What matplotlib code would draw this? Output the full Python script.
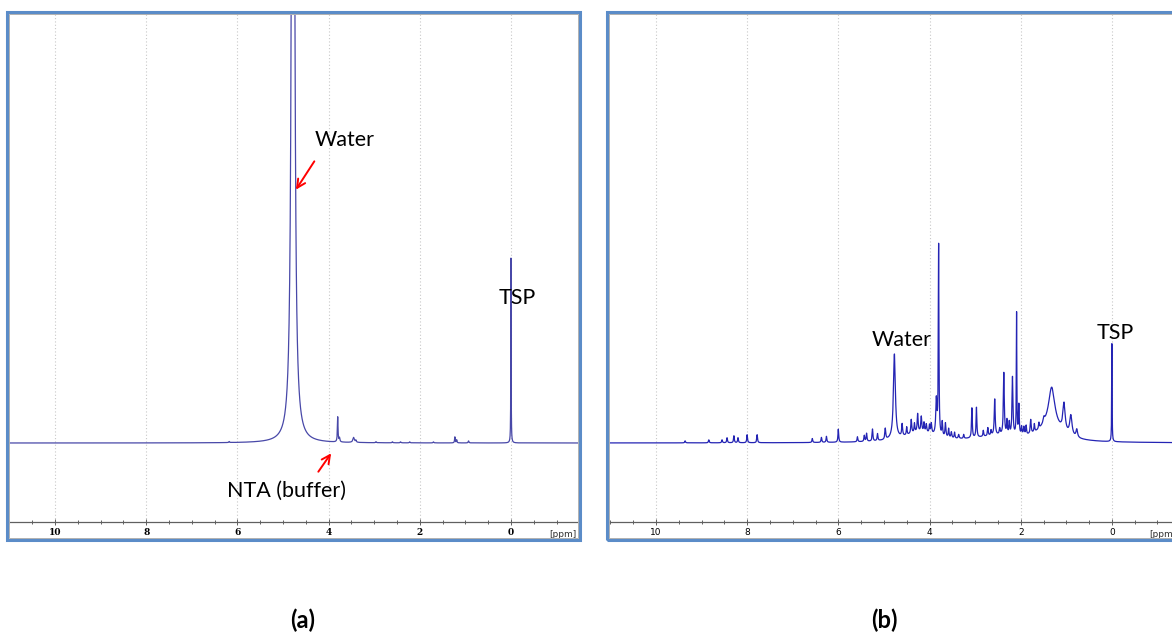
import numpy as np
import matplotlib.pyplot as plt
from matplotlib.patches import Rectangle

# =========================
# DATA
# heights in arbitrary units above the baseline, widths = half width in ppm
# =========================
# (a) buffer only
a_pos = [4.78, 0.00, 3.80, 3.76, 3.45, 3.40, 1.23, 1.19, 0.93, 6.18, 2.96, 2.60, 2.42, 2.22, 1.70]
a_height = [2000, 185, 25, 4, 5, 2, 6, 3, 2, 1, 1, 1, 1, 1, 1]
a_width = [0.022, 0.004, 0.008, 0.01, 0.02, 0.01, 0.008, 0.008, 0.01, 0.01, 0.01, 0.01, 0.01, 0.01, 0.01]

# (b) sample
b_pos = [9.36, 8.84, 8.55, 8.44, 8.29, 8.20, 8.00, 7.78, 6.57, 6.37, 6.26, 6.00,
         5.58, 5.43, 5.38, 5.25, 5.14, 4.97, 4.77, 4.60, 4.50, 4.40, 4.33, 4.26,
         4.18, 4.12, 4.07, 4.00, 3.96, 3.85, 3.80, 3.72, 3.65, 3.58, 3.52, 3.45,
         3.36, 3.25, 3.07, 2.97, 2.82, 2.72, 2.65, 2.57, 2.46, 2.37, 2.30, 2.25,
         2.18, 2.09, 2.04, 1.98, 1.93, 1.88, 1.78, 1.70, 1.60, 1.49, 1.32, 1.05,
         0.90, 0.77, 0.00]
b_height = [2, 3, 3, 5, 7, 5, 8, 8, 4, 5, 6, 13,
            5, 6, 8, 12, 7, 11, 85, 12, 8, 14, 9, 18,
            15, 9, 8, 8, 10, 35, 190, 14, 14, 9, 6, 6,
            4, 4, 30, 30, 6, 8, 5, 36, 6, 62, 14, 12,
            58, 122, 30, 8, 8, 9, 14, 8, 6, 5, 38, 28,
            20, 8, 98]
b_width = [0.01, 0.01, 0.01, 0.01, 0.01, 0.01, 0.01, 0.01, 0.01, 0.01, 0.01, 0.01,
           0.01, 0.01, 0.01, 0.01, 0.01, 0.012, 0.025, 0.012, 0.01, 0.012, 0.01, 0.012,
           0.012, 0.01, 0.012, 0.01, 0.012, 0.015, 0.008, 0.01, 0.012, 0.01, 0.012, 0.01,
           0.012, 0.01, 0.01, 0.01, 0.01, 0.01, 0.01, 0.012, 0.012, 0.012, 0.01, 0.01,
           0.012, 0.006, 0.01, 0.01, 0.012, 0.01, 0.012, 0.01, 0.01, 0.02, 0.08, 0.03,
           0.03, 0.02, 0.005]
# broad underlying humps in (b)
b_broad_pos = [4.2, 2.5, 1.35]
b_broad_height = [10, 6, 16]
b_broad_width = [0.4, 0.6, 0.3]

tick_labels = ["10", "8", "6", "4", "2", "0"]


def spectrum(x, pos, height, width):
    y = np.zeros_like(x)
    for p, h, w in zip(pos, height, width):
        y += h * w ** 2 / ((x - p) ** 2 + w ** 2)
    return y


ppm = np.linspace(-1.6, 11.2, 14000)
spec_a = spectrum(ppm, a_pos, a_height, a_width)
spec_b = spectrum(ppm, b_pos, b_height, b_width) + spectrum(ppm, b_broad_pos, b_broad_height, b_broad_width)

# =========================
# FIGURE
# =========================
W, H = 1172, 636
fig = plt.figure(figsize=(W / 100, H / 100), dpi=100)
FONT = "Lato"


def px_axes(x0, y0, x1, y1):
    return fig.add_axes([x0 / W, 1 - y1 / H, (x1 - x0) / W, (y1 - y0) / H])


def frame(x0, y0, x1, y1):
    fig.patches.append(Rectangle((x0 / W, 1 - y1 / H), (x1 - x0) / W, (y1 - y0) / H,
                                 transform=fig.transFigure, fill=False,
                                 edgecolor="#5b8cc8", linewidth=2.2))
    fig.patches.append(Rectangle(((x0 + 2) / W, 1 - (y1 - 2) / H), (x1 - x0 - 4) / W, (y1 - y0 - 4) / H,
                                 transform=fig.transFigure, fill=False,
                                 edgecolor="#b0b0b0", linewidth=0.7))


def style(ax, xl, yl, lab_font):
    ax.set_xlim(xl)
    ax.set_ylim(yl)
    for s in ["left", "right", "top"]:
        ax.spines[s].set_visible(False)
    ax.spines["bottom"].set_color("#606060")
    ax.spines["bottom"].set_linewidth(0.9)
    ax.set_yticks([])
    ax.set_xticks([10, 8, 6, 4, 2, 0])
    ax.set_xticklabels(tick_labels, **lab_font)
    ax.set_xticks(np.arange(-1.0, 11.01, 0.5), minor=True)
    ax.tick_params(axis="x", which="both", direction="inout", length=4, width=0.7,
                   color="#606060", pad=2)
    ax.tick_params(axis="x", which="minor", length=3)
    for t in [10, 8, 6, 4, 2, 0]:
        ax.axvline(t, color="#c8c8c8", lw=0.8, ls=(0, (1, 2)), zorder=0)
    ax.patch.set_alpha(0)


# ---- (a)
frame(7, 12, 580, 540)
ax1 = px_axes(9, 14, 578, 522)
ax1.plot(ppm, spec_a, color="#4848a8", lw=0.9)
style(ax1, (11.01, -1.47), (-79, 429),
      dict(family="DejaVu Serif", fontweight="bold", fontsize=6.5))
ax1.text(0.997, -0.016, "[ppm]", transform=ax1.transAxes, ha="right", va="top",
         fontsize=6.5, family="DejaVu Sans", color="#303030")
ax1.text(4.3, 303, "Water", fontsize=15.5, family=FONT, ha="left", va="center")
ax1.annotate("", xy=(4.75, 251), xytext=(4.28, 284),
             arrowprops=dict(arrowstyle="->", color="red", lw=1.4, mutation_scale=15))
ax1.text(-0.13, 145, "TSP", fontsize=15.5, family=FONT, ha="center", va="center")
ax1.text(4.93, -48, "NTA (buffer)", fontsize=15.5, family=FONT, ha="center", va="center")
ax1.annotate("", xy=(3.91, -8), xytext=(4.26, -31),
             arrowprops=dict(arrowstyle="->", color="red", lw=1.4, mutation_scale=15))

# ---- (b)
frame(607, 12, 1185, 540)
ax2 = px_axes(609, 14, 1178, 522)
ax2.plot(ppm, spec_b, color="#2424b4", lw=0.9)
style(ax2, (11.03, -1.45), (-79, 429),
      dict(family="DejaVu Sans", fontsize=6.5))
ax2.text(0.997, -0.016, "[ppm]", transform=ax2.transAxes, ha="right", va="top",
         fontsize=6.5, family="DejaVu Sans", color="#303030")
ax2.text(4.62, 103, "Water", fontsize=15.5, family=FONT, ha="center", va="center")
ax2.text(-0.07, 110, "TSP", fontsize=15.5, family=FONT, ha="center", va="center")

fig.text(303 / W, 1 - 620 / H, "(a)", fontsize=17, fontweight="bold", family=FONT,
         ha="center", va="center")
fig.text(884 / W, 1 - 620 / H, "(b)", fontsize=17, fontweight="bold", family=FONT,
         ha="center", va="center")

fig.savefig("out.png", dpi=100)
